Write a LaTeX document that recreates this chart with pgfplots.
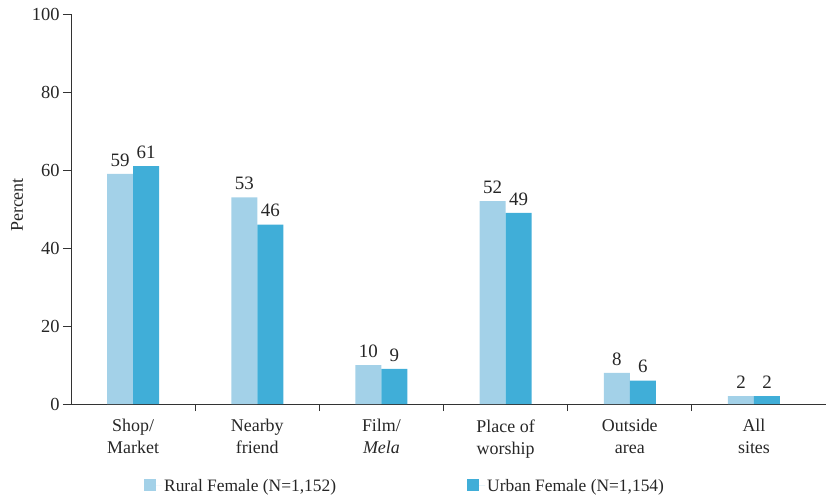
\documentclass[border=0pt]{standalone}
\usepackage{fontspec}
\setmainfont{Liberation Serif}
\usepackage{pgfplots}
\pgfplotsset{compat=1.18}
\definecolor{ruralc}{RGB}{163,209,232}
\definecolor{urbanc}{RGB}{64,174,216}

\begin{document}
\begin{tikzpicture}
  \useasboundingbox (-71bp,-95bp) rectangle (756bp,404bp);
  \begin{axis}[
    scale only axis, width=755bp, height=390bp,
    ybar=0pt, bar width=26bp,
    xmin=-0.5, xmax=5.58, ymin=0, ymax=100,
    axis y line=left, axis x line=bottom,
    axis line style={-, line width=0.9pt, black!80},
    ytick={0,20,...,100},
    xtick={0,...,5},
    xticklabels={{Shop/\\Market},{Nearby\\friend},{Film/\\\textit{Mela}},{Place of\\worship},{Outside\\area},{All\\sites}},
    xticklabel style={align=center, font=\fontsize{18}{22}\selectfont, text=black!85, yshift=-4bp},
    yticklabel style={font=\fontsize{18.5}{20}\selectfont, text=black!85},
    /pgf/number format/assume math mode=true,
    major x tick style={draw=none},
    minor xtick={0.5,1.5,2.5,3.5,4.5},
    minor tick length=7bp, major tick length=8bp,
    tick align=outside, tick style={black!80, line width=0.9pt},
    nodes near coords,
    every node near coord/.append style={font=\fontsize{19}{20}\selectfont, text=black!85, yshift=4bp},
    legend columns=2,
    legend style={at={(0.4425,-0.21)}, anchor=center, draw=none,
      font=\fontsize{17.5}{19}\selectfont, text=black!85,
      /tikz/every even column/.append style={column sep=129bp}},
    legend image code/.code={\fill[#1] (0bp,-5bp) rectangle (12bp,7bp);
      \path (0bp,0bp) -- (18bp,0bp);},
  ]
    \addplot[draw=none, fill=ruralc] coordinates {(0,59) (1,53) (2,10) (3,52) (4,8) (5,2)};
    \addplot[draw=none, fill=urbanc] coordinates {(0,61) (1,46) (2,9) (3,49) (4,6) (5,2)};
    \legend{{Rural Female (N=1,152)}, {Urban Female (N=1,154)}}
  \end{axis}
  \node[rotate=90, font=\fontsize{18}{20}\selectfont, text=black!85]
    at (-54bp,199bp) {Percent};
\end{tikzpicture}
\end{document}
